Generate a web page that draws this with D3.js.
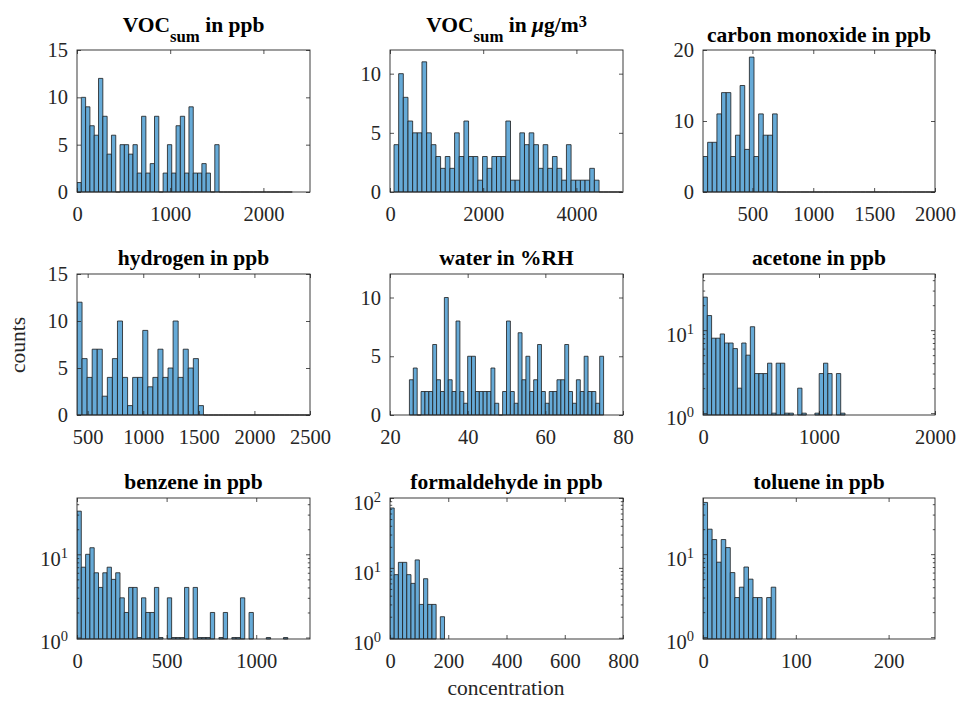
<!DOCTYPE html>
<html><head><meta charset="utf-8">
<script src="https://cdn.jsdelivr.net/npm/d3@7"></script>
<style>
body{margin:0;background:#fff}
text{font-family:"Liberation Serif","Times New Roman",serif}
</style>
</head><body>
<svg id="c" width="960" height="705"></svg>
<script>
// ---------- data ----------
const titles = ["VOC_{sum} in ppb","VOC_{sum} in \\mug/m^3","carbon monoxide in ppb",
                "hydrogen in ppb","water in %RH","acetone in ppb",
                "benzene in ppb","formaldehyde in ppb","toluene in ppb"];
const yScaleTypes = ["linear","linear","linear","linear","linear","log","log","log","log"];
const xDomains = [[0,2500],[0,5000],[94,2000],[404,2500],[20,80],[0,2000],[0,1300],[0,800],[0,250]];
const yDomains = [[0,15],[0,12],[0,20],[0,15],[0,12],[0.95,47.5],[0.96,47.5],[0.96,100],[0.95,47.5]];
const xTicks = [[0,1000,2000],[0,2000,4000],[500,1000,1500,2000],[500,1000,1500,2000,2500],
                [20,40,60,80],[0,1000,2000],[0,500,1000],[0,200,400,600,800],[0,100,200]];
const yTicks = [[0,5,10,15],[0,5,10],[0,10,20],[0,5,10,15],[0,5,10],[1,10],[1,10],[1,10,100],[1,10]];
const binStarts = [0,86,94,404,25,0,0,0,0];
const binWidths = [46.2,100,38.1,45.5,1,37.1,24,14.4,4.9];

const countsVocPpb = [1,10,9,7,6,12,8,4,6,0,5,5,4,5,2,8,2,3,8,0,2,5,2,7,8,2,9,2,2,3,2,0,5,
                      0,0,0,0,0,0,0,0,0,0,0,0,0,0,0,0,0];
const countsVocUg = [4,10,8,6,5,5,11,5,4,3,2,3,2,5,3,6,3,3,1,3,2,3,3,3,6,1,1,5,4,5,4,2,4,2,3,2,1,4,1,1,1,1,2,1,
                     0,0,0,0,0];
const countsCO = [5,7,7,11,14,14,5,8,15,6,19,5,11,8,8,11,
                  0,0,0,0,0,0,0,0,0,0,0,0,0,0,0,0,0,0,0,0,0,0,0,0,0,0,0,0,0,0,0,0,0,0];
const countsH2 = [12,6,4,7,7,2,4,6,10,4,1,4,4,9,3,4,7,4,5,10,4,7,5,6,1,
                  0,0,0,0,0,0,0,0,0,0,0,0,0,0,0,0,0,0,0,0,0];
const countsWater = [3,4,0,2,2,2,6,3,2,10,3,2,8,2,1,5,5,2,2,2,2,4,1,0,2,8,2,1,7,3,
                     5,2,3,6,2,1,2,2,3,3,6,2,1,3,2,5,2,2,1,5];
const countsAcetone = [25,15,8,8,9,7,7,6,2,7,5,11,3,3,3,4,1,4,4,1,1,0,2,1,0,0,1,3,4,3,0,3,1];
const countsBenzene = [33,7,10,12,6,4,6,7,5,6,3,2,4,4,1,3,2,2,4,1,0,3,1,1,1,4,0,4,1,1,
                       1,2,0,1,2,0,1,1,3,0,2,0,0,0,1,0,0,0,1,0];
const countsFormaldehyde = [72,8,12,12,8,6,13,3,7,3,3,0,2];
const countsToluene = [42,20,15,8,15,12,6,3,4,7,5,3,3,0,3,4];

const allCounts = [countsVocPpb,countsVocUg,countsCO,countsH2,countsWater,
                   countsAcetone,countsBenzene,countsFormaldehyde,countsToluene];
const yLabel = "counts", xLabel = "concentration";

// ---------- layout ----------
const colBounds = [[77,310],[390,623],[703,935]];
const rowBounds = [[50,192],[274,415],[498,639]];
const titleOffsets = [17.7,17.7,8.5, 9.5,9.5,9.5, 9.5,9.5,9.5];
const axisColor = "#262626";
const fillColor = "rgb(102,170,215)";
const tickFont = 20.5, titleFont = 21.5, labelFont = 21.5;

const svg = d3.select("#c");

function richText(textSel, str, size){
  // minimal TeX: _{..} subscript, ^x superscript, \mu
  const segs = [];
  let i = 0, buf = "";
  const push = (t, o={}) => { if(t) segs.push(Object.assign({t}, o)); };
  while(i < str.length){
    const ch = str[i];
    if(ch === "_" || ch === "^"){
      push(buf); buf = "";
      let t;
      if(str[i+1] === "{"){ const j = str.indexOf("}", i); t = str.slice(i+2, j); i = j+1; }
      else { t = str[i+1]; i += 2; }
      push(t, ch === "_" ? {sub:true} : {sup:true});
    } else if(str.startsWith("\\mu", i)){
      push(buf); buf = ""; push("\u03bc", {it:true}); i += 3;
    } else { buf += ch; i++; }
  }
  push(buf);
  let shift = 0;
  segs.forEach(s => {
    let target = 0, fs = size;
    if(s.sub){ target = 0.44*size; fs = 0.78*size; }
    if(s.sup){ target = -5; fs = 0.76*size; }
    const ts = textSel.append("tspan").text(s.t).attr("font-size", fs).attr("dy", target - shift);
    if(s.it) ts.attr("font-style","italic");
    shift = target;
  });
}

allCounts.forEach((counts, i) => {
  const [x0, x1] = colBounds[i % 3];
  const [y0, y1] = rowBounds[Math.floor(i / 3)];
  const isLog = yScaleTypes[i] === "log";
  const x = d3.scaleLinear().domain(xDomains[i]).range([x0, x1]);
  const y = (isLog ? d3.scaleLog() : d3.scaleLinear()).domain(yDomains[i]).range([y1, y0]);
  const g = svg.append("g");

  const clipId = "clip" + i;
  svg.append("clipPath").attr("id", clipId).append("rect")
    .attr("x", x0).attr("y", y0 - 1).attr("width", x1 - x0).attr("height", y1 - y0 + 2);

  const bins = counts.map((c, k) => ({c, a: binStarts[i] + k*binWidths[i], b: binStarts[i] + (k+1)*binWidths[i]}));
  g.append("g").attr("clip-path", `url(#${clipId})`)
    .selectAll("path").data(bins.filter(d => !isLog || d.c > 0)).join("path")
    .attr("d", d => {
      const xa = x(d.a), xb = x(d.b), yt = d.c > 0 ? y(d.c) : y1;
      return `M${xa},${y1}V${yt}H${xb}V${y1}Z`;
    })
    .attr("fill", fillColor).attr("stroke", "#1c1c1c").attr("stroke-width", 0.8);

  const tl = 4;
  g.append("g").attr("transform", `translate(0,${y1})`)
    .call(d3.axisBottom(x).tickValues(xTicks[i]).tickSizeInner(-tl).tickSizeOuter(0).tickPadding(14).tickFormat(d3.format("d")));
  g.append("g").attr("transform", `translate(0,${y0})`)
    .call(d3.axisTop(x).tickValues(xTicks[i]).tickSizeInner(-tl).tickSizeOuter(0).tickFormat(""));
  const ly = g.append("g").attr("transform", `translate(${x0},0)`)
    .call(d3.axisLeft(y).tickValues(yTicks[i]).tickSizeInner(-tl).tickSizeOuter(0).tickPadding(9)
      .tickFormat(isLog ? (() => "") : d3.format("d")));
  g.append("g").attr("transform", `translate(${x1},0)`)
    .call(d3.axisRight(y).tickValues(yTicks[i]).tickSizeInner(-tl).tickSizeOuter(0).tickFormat(""));
  if(isLog){
    const minors = y.ticks().filter(v => Math.abs(Math.log10(v) - Math.round(Math.log10(v))) > 1e-6);
    g.append("g").attr("transform", `translate(${x0},0)`)
      .call(d3.axisLeft(y).tickValues(minors).tickSizeInner(-2.2).tickSizeOuter(0).tickFormat(""));
    g.append("g").attr("transform", `translate(${x1},0)`)
      .call(d3.axisRight(y).tickValues(minors).tickSizeInner(-2.2).tickSizeOuter(0).tickFormat(""));
    ly.selectAll(".tick text").each(function(d){
      const t = d3.select(this).attr("dy", "0.55em");
      t.append("tspan").text("10");
      t.append("tspan").attr("dy", -8).attr("font-size", 14.5).text(Math.round(Math.log10(d)));
    });
  }
  g.selectAll(".domain").remove();
  g.selectAll(".tick line").attr("stroke", axisColor).attr("stroke-width", 0.8);
  g.selectAll(".tick text").attr("fill", axisColor).attr("font-size", tickFont)
    .attr("font-family", '"Liberation Serif","Times New Roman",serif');
  g.append("rect").attr("x", x0).attr("y", y0).attr("width", x1 - x0).attr("height", y1 - y0)
    .attr("fill", "none").attr("stroke", axisColor).attr("stroke-width", 0.9);

  const tt = g.append("text").attr("x", (x0 + x1) / 2).attr("y", y0 - titleOffsets[i])
    .attr("text-anchor", "middle").attr("font-weight", "bold").attr("font-size", titleFont).attr("fill", "#000");
  richText(tt, titles[i], titleFont);
});

svg.append("text").attr("transform", "translate(25,345) rotate(-90)").attr("text-anchor", "middle")
  .attr("font-size", labelFont).attr("fill", axisColor).text(yLabel);
svg.append("text").attr("x", 506).attr("y", 695).attr("text-anchor", "middle")
  .attr("font-size", labelFont).attr("fill", axisColor).text(xLabel);
</script>
</body></html>
